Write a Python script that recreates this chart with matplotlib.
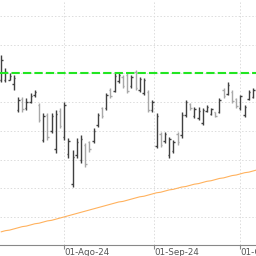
import numpy as np
import pandas as pd
import matplotlib
matplotlib.use("Agg")
import matplotlib.pyplot as plt

# sesiones (calendario NYSE), 11-jul-2024 .. 07-oct-2024
fechas = pd.bdate_range("2024-07-11", "2024-10-07")
fechas = fechas[fechas != pd.Timestamp("2024-09-02")]  # Labor Day

apertura = [88.9, 88.8, 88.9, 88.2, 83.6, 85.6, 84.0, 85.0, 86.3, 84.5,
            78.4, 82.8, 80.0, 76.8, 83.5, 79.0, 76.0, 70.8, 75.8, 75.0,
            77.5, 78.0, 78.3, 81.0, 84.0, 84.0, 87.2, 87.0, 88.6, 89.4,
            89.8, 87.8, 90.2, 87.2, 86.6, 86.8, 83.6, 77.4, 79.5, 78.2,
            75.8, 76.5, 79.5, 79.2, 82.8, 84.6, 82.5, 82.2, 81.4, 83.5,
            83.0, 83.2, 83.3, 87.2, 86.5, 86.8, 85.5, 84.0, 82.8, 85.6,
            85.9, 87.0]
maximo = [93.2, 90.9, 90.1, 89.7, 85.9, 85.9, 85.7, 86.6, 87.1, 84.8,
          83.1, 83.1, 83.1, 83.6, 84.0, 85.0, 78.8, 76.7, 78.8, 79.3,
          77.9, 78.2, 80.5, 83.1, 84.2, 86.6, 87.5, 90.1, 90.1, 89.7,
          90.1, 89.7, 90.6, 89.4, 89.2, 87.1, 85.4, 83.1, 79.8, 79.8,
          78.9, 78.4, 79.8, 83.3, 85.4, 84.8, 84.2, 84.2, 84.0, 84.5,
          84.0, 83.3, 85.7, 87.5, 88.5, 87.1, 85.7, 86.2, 84.5, 87.1,
          87.5, 87.8]
minimo = [88.5, 88.5, 88.9, 87.1, 83.3, 83.3, 83.6, 84.8, 85.9, 81.5,
          78.0, 78.4, 79.6, 76.1, 80.5, 78.4, 75.3, 70.2, 75.3, 74.4,
          73.7, 76.3, 77.9, 80.7, 82.2, 83.6, 85.7, 86.8, 88.3, 87.5,
          86.6, 87.5, 87.1, 86.8, 86.2, 83.3, 83.3, 77.0, 77.2, 77.9,
          75.3, 76.1, 77.5, 78.8, 82.4, 83.6, 82.2, 81.9, 81.0, 83.3,
          82.8, 82.4, 83.1, 85.7, 86.2, 84.8, 84.0, 83.6, 82.4, 85.4,
          85.7, 86.5]
cierre = [92.3, 90.2, 89.5, 89.2, 85.4, 83.8, 85.0, 86.1, 86.8, 81.9,
          82.6, 79.0, 82.5, 83.0, 80.8, 84.5, 78.2, 75.5, 78.0, 78.6,
          74.2, 76.8, 80.0, 82.8, 82.5, 86.2, 86.0, 89.5, 89.8, 87.8,
          87.0, 89.3, 87.5, 89.0, 88.8, 83.6, 85.0, 82.6, 77.6, 79.4,
          78.5, 78.0, 78.0, 82.8, 85.0, 83.9, 83.8, 83.5, 83.6, 84.2,
          83.8, 82.6, 85.4, 86.0, 88.0, 85.2, 84.3, 86.0, 84.2, 86.8,
          87.2, 87.5]
media = [62.4, 62.6, 62.7, 62.9, 63.1, 63.3, 63.4, 63.6, 63.8, 63.9,
         64.1, 64.3, 64.4, 64.6, 64.8, 65.0, 65.2, 65.4, 65.6, 65.8,
         66.0, 66.2, 66.4, 66.6, 66.8, 67.0, 67.2, 67.4, 67.6, 67.7,
         67.9, 68.1, 68.3, 68.5, 68.6, 68.8, 69.0, 69.2, 69.3, 69.5,
         69.7, 69.8, 70.0, 70.2, 70.3, 70.5, 70.7, 70.8, 71.0, 71.2,
         71.3, 71.5, 71.7, 71.8, 72.0, 72.2, 72.3, 72.5, 72.7, 72.8,
         73.0, 73.2]
resistencia = 90.1
meses = ["2024-08-01", "2024-09-01", "2024-10-01"]
etiquetas = ["01-Ago-24", "01-Sep-24", "01-Oct-24"]

x = np.arange(len(fechas))
fig = plt.figure(figsize=(2.56, 2.56), dpi=100)
ax = fig.add_axes([0, 11 / 256, 1, 245 / 256])

for i in x:
    col = "#404040" if cierre[i] >= apertura[i] else "#a8a8a8"
    ax.vlines(i, minimo[i], maximo[i], color=col, lw=1.0)
    ax.hlines(apertura[i], i - 0.35, i, color=col, lw=1.0)
    ax.hlines(cierre[i], i, i + 0.35, color=col, lw=1.0)

ax.plot(x, media, color="#ffb25e", lw=0.8)
ax.axhline(resistencia, color="#22e622", lw=1.5, ls=(0, (4, 1.5)))

# posición de cada etiqueta mensual interpolando en el tiempo real
pos = np.interp(pd.to_datetime(meses).map(pd.Timestamp.toordinal),
                fechas.map(pd.Timestamp.toordinal), x)
ax.set_xticks(pos)
ax.set_xticklabels(etiquetas, fontsize=6.3, color="#555555", ha="left")
ax.tick_params(axis="x", length=3, width=0.8, color="#888888", pad=-1)
ax.set_yticks(np.arange(60, 105, 5))
ax.tick_params(axis="y", left=False, labelleft=False)
ax.grid(True, color="#dcdcdc", ls=(0, (1.5, 2)), lw=0.7)
ax.set_axisbelow(True)
for s in ["top", "right", "left"]:
    ax.spines[s].set_visible(False)
ax.spines["bottom"].set_color("#888888")
ax.set_xlim(-0.3, 60.7)
ax.set_ylim(60.1, 102.8)

fig.savefig("out.png", dpi=100)
